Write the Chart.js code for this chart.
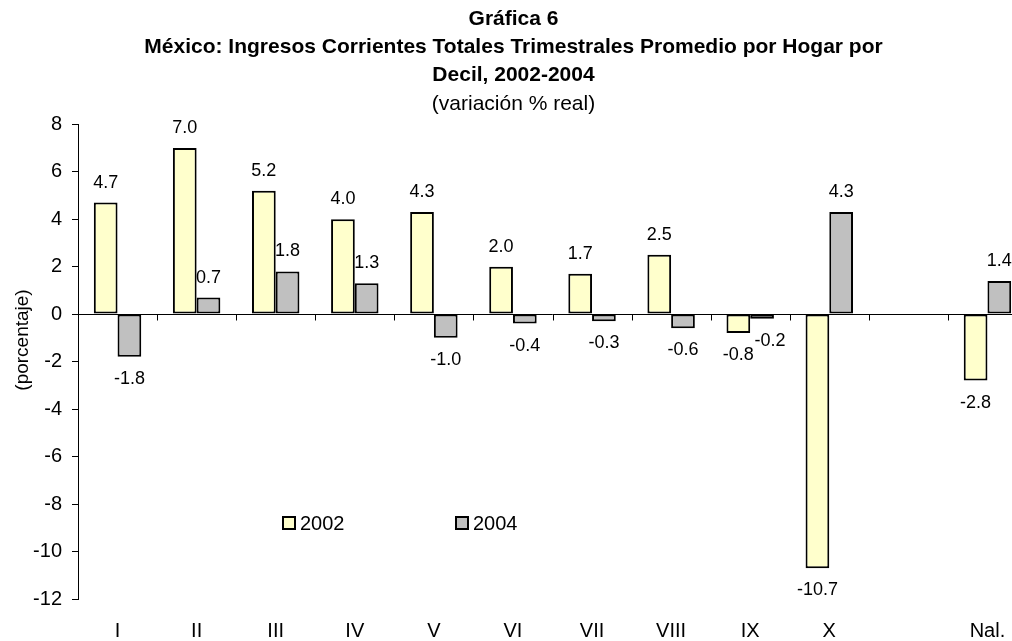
<!DOCTYPE html>
<html lang="es">
<head>
<meta charset="utf-8">
<title>Gráfica 6</title>
<script src="https://cdn.jsdelivr.net/npm/chart.js@4.4.1/dist/chart.umd.min.js"></script>
<style>
  html, body { margin: 0; padding: 0; background: #fff; overflow: hidden; }
  #wrap { width: 1030px; height: 641px; }
</style>
</head>
<body>
<div id="wrap"><canvas id="chart" width="1030" height="641"></canvas></div>
<script>
const FONT = "'Liberation Sans', Arial, sans-serif";

const categories = ["I", "II", "III", "IV", "V", "VI", "VII", "VIII", "IX", "X", "", "Nal."];
const values2002 = [4.7, 7.0, 5.2, 4.0, 4.3, 2.0, 1.7, 2.5, -0.8, -10.7, null, -2.8];
const values2004 = [-1.8, 0.7, 1.8, 1.3, -1.0, -0.4, -0.3, -0.6, -0.2, 4.3, null, 1.4];
const seriesLabels = ["2002", "2004"];
const titleLines = ["Gráfica 6", "México: Ingresos Corrientes Totales Trimestrales Promedio por Hogar por", "Decil, 2002-2004"];
const subtitleText = "(variación % real)";
const yAxisTitle = "(porcentaje)";

// zero line + small ticks between categories
const zeroAxis = {
  id: 'zeroAxis',
  beforeDatasetsDraw(chart){
    const {ctx, chartArea, scales:{x, y}} = chart;
    const y0 = Math.round(y.getPixelForValue(0)) + 0.5;
    ctx.save();
    ctx.strokeStyle = '#000';
    ctx.lineWidth = 1;
    ctx.beginPath();
    ctx.moveTo(chartArea.left, y0);
    ctx.lineTo(chartArea.right, y0);
    for(let i = 1; i < categories.length; i++){
      const bx = Math.round((x.getPixelForTick(i-1) + x.getPixelForTick(i)) / 2) + 0.5;
      ctx.moveTo(bx, y0);
      ctx.lineTo(bx, y0 + 6);
    }
    ctx.stroke();
    ctx.restore();
  }
};

// value labels above / below bars
const nudge = { "1:8": 8 }; // the -0.2 label was pushed right to clear -0.8
const valueLabels = {
  id: 'valueLabels',
  afterDatasetsDraw(chart){
    const {ctx} = chart;
    ctx.save();
    ctx.fillStyle = '#000';
    ctx.font = "18px " + FONT;
    ctx.textAlign = 'center';
    ctx.textBaseline = 'alphabetic';
    chart.data.datasets.forEach((ds, di) => {
      const meta = chart.getDatasetMeta(di);
      meta.data.forEach((el, i) => {
        const v = ds.data[i];
        if(v == null) return;
        const ty = v >= 0 ? el.y - 15 : el.y + 27;
        ctx.fillText(v.toFixed(1), el.x + (nudge[di + ":" + i] || 0), ty);
      });
    });
    ctx.restore();
  }
};

// legend inside the plot + rotated y title
const extras = {
  id: 'extras',
  afterDraw(chart){
    const {ctx} = chart;
    ctx.save();
    const pos = [282, 455];
    ctx.font = "20px " + FONT;
    ctx.textBaseline = 'middle';
    ctx.textAlign = 'left';
    chart.data.datasets.forEach((ds, i) => {
      ctx.fillStyle = ds.backgroundColor;
      ctx.fillRect(pos[i] + 1, 517, 12, 12);
      ctx.strokeStyle = '#000';
      ctx.lineWidth = 2;
      ctx.strokeRect(pos[i] + 1, 517, 12, 12);
      ctx.fillStyle = '#000';
      ctx.fillText(ds.label, pos[i] + 18, 524);
    });
    ctx.translate(23, 340);
    ctx.rotate(-Math.PI / 2);
    ctx.textAlign = 'center';
    ctx.font = "19px " + FONT;
    ctx.fillText(yAxisTitle, 0, 0);
    ctx.restore();
  }
};

const chart = new Chart(document.getElementById('chart'), {
  type: 'bar',
  data: {
    labels: categories,
    datasets: [
      { label: seriesLabels[0], data: values2002, backgroundColor: '#FFFFCC', borderColor: '#000', borderWidth: 2, borderSkipped: false },
      { label: seriesLabels[1], data: values2004, backgroundColor: '#C0C0C0', borderColor: '#000', borderWidth: 2, borderSkipped: false }
    ]
  },
  options: {
    responsive: false,
    animation: false,
    devicePixelRatio: 1,
    layout: { padding: { left: 0, right: 3, top: 0, bottom: 0 } },
    datasets: { bar: { categoryPercentage: 0.6, barPercentage: 1.0 } },
    scales: {
      x: {
        grid: { display: false },
        border: { display: false },
        ticks: { color: '#000', font: { family: FONT, size: 20 }, padding: 12, maxRotation: 0, autoSkip: false },
        afterFit: (s) => { s.height = 42; }
      },
      y: {
        min: -12, max: 8,
        ticks: { stepSize: 2, color: '#000', font: { family: FONT, size: 20 }, padding: 10 },
        grid: { drawOnChartArea: false, drawTicks: true, tickLength: 6, color: '#000' },
        border: { display: true, color: '#000', width: 1 },
        afterFit: (s) => { s.width = 78; }
      }
    },
    plugins: {
      legend: { display: false },
      tooltip: { enabled: false },
      title: {
        display: true,
        text: titleLines,
        color: '#000',
        font: { family: FONT, size: 21, weight: 'bold', lineHeight: 28 / 21 },
        padding: { top: 5, bottom: 2 }
      },
      subtitle: {
        display: true,
        text: subtitleText,
        color: '#000',
        font: { family: FONT, size: 21, lineHeight: 1.2 },
        padding: { top: 1, bottom: 7 }
      }
    }
  },
  plugins: [zeroAxis, valueLabels, extras]
});
</script>
</body>
</html>
